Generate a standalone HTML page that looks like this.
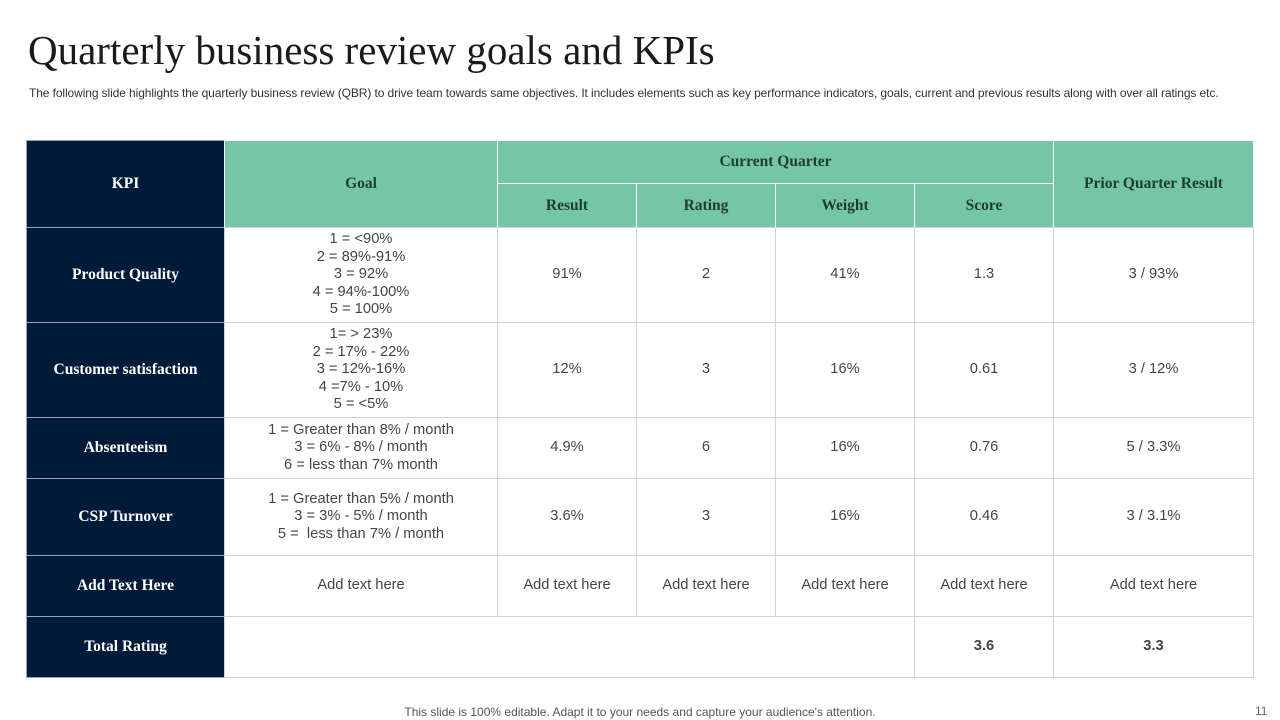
<!DOCTYPE html>
<html><head><meta charset="utf-8">
<style>
body{margin:0;width:1280px;height:720px;background:#fff;position:relative;overflow:hidden;font-family:"Liberation Sans",sans-serif;}
.t{position:absolute;left:28px;top:26px;font-family:"Liberation Serif",serif;font-size:41px;color:#1a1a1a;white-space:nowrap;}
.s{position:absolute;left:29px;top:86px;font-size:12px;color:#333;white-space:nowrap;letter-spacing:-0.1px;}
.c{position:absolute;box-sizing:border-box;display:flex;align-items:center;justify-content:center;text-align:center;font-size:14.7px;color:#454545;line-height:17.5px;border:1px solid #d3d3d3;background:#fff;}
.n{background:#001b3a;color:#fff;font-family:"Liberation Serif",serif;font-weight:bold;font-size:15.5px;border-color:#9aa4b0;}
.g{background:#74c6a5;color:#1e3d30;font-family:"Liberation Serif",serif;font-weight:bold;font-size:15.5px;border-color:#ffffff;}
.b{font-weight:bold;}
.f{position:absolute;top:705px;left:0;width:1280px;text-align:center;font-size:12px;color:#555;}
.p{position:absolute;top:704px;left:1255px;font-size:12px;color:#666;}
</style></head><body>
<div class="t">Quarterly business review goals and KPIs</div>
<div class="s">The following slide highlights the quarterly business review (QBR) to drive team towards same objectives. It includes elements such as key performance indicators, goals, current and previous results along with over all ratings etc.</div>

<div>
<div class="c n" style="left:26px;top:140px;width:199px;height:88px">KPI</div>
<div class="c g" style="left:224px;top:140px;width:274px;height:88px">Goal</div>
<div class="c g" style="left:497px;top:140px;width:557px;height:44px">Current Quarter</div>
<div class="c g" style="left:1053px;top:140px;width:201px;height:88px">Prior Quarter Result</div>
<div class="c g" style="left:497px;top:183px;width:140px;height:45px">Result</div>
<div class="c g" style="left:636px;top:183px;width:140px;height:45px">Rating</div>
<div class="c g" style="left:775px;top:183px;width:140px;height:45px">Weight</div>
<div class="c g" style="left:914px;top:183px;width:140px;height:45px">Score</div>

<div class="c n" style="left:26px;top:227px;width:199px;height:96px">Product Quality</div>
<div class="c" style="left:224px;top:227px;width:274px;height:96px">1 = &lt;90%<br>2 = 89%-91%<br>3 = 92%<br>4 = 94%-100%<br>5 = 100%</div>
<div class="c" style="left:497px;top:227px;width:140px;height:96px">91%</div>
<div class="c" style="left:636px;top:227px;width:140px;height:96px">2</div>
<div class="c" style="left:775px;top:227px;width:140px;height:96px">41%</div>
<div class="c" style="left:914px;top:227px;width:140px;height:96px">1.3</div>
<div class="c" style="left:1053px;top:227px;width:201px;height:96px">3 / 93%</div>

<div class="c n" style="left:26px;top:322px;width:199px;height:96px">Customer satisfaction</div>
<div class="c" style="left:224px;top:322px;width:274px;height:96px">1= &gt; 23%<br>2 = 17% - 22%<br>3 = 12%-16%<br>4 =7% - 10%<br>5 = &lt;5%</div>
<div class="c" style="left:497px;top:322px;width:140px;height:96px">12%</div>
<div class="c" style="left:636px;top:322px;width:140px;height:96px">3</div>
<div class="c" style="left:775px;top:322px;width:140px;height:96px">16%</div>
<div class="c" style="left:914px;top:322px;width:140px;height:96px">0.61</div>
<div class="c" style="left:1053px;top:322px;width:201px;height:96px">3 / 12%</div>

<div class="c n" style="left:26px;top:417px;width:199px;height:62px">Absenteeism</div>
<div class="c" style="left:224px;top:417px;width:274px;height:62px">1 = Greater than 8% / month<br>3 = 6% - 8% / month<br>6 = less than 7% month</div>
<div class="c" style="left:497px;top:417px;width:140px;height:62px">4.9%</div>
<div class="c" style="left:636px;top:417px;width:140px;height:62px">6</div>
<div class="c" style="left:775px;top:417px;width:140px;height:62px">16%</div>
<div class="c" style="left:914px;top:417px;width:140px;height:62px">0.76</div>
<div class="c" style="left:1053px;top:417px;width:201px;height:62px">5 / 3.3%</div>

<div class="c n" style="left:26px;top:478px;width:199px;height:78px">CSP Turnover</div>
<div class="c" style="left:224px;top:478px;width:274px;height:78px">1 = Greater than 5% / month<br>3 = 3% - 5% / month<br>5 = &nbsp;less than 7% / month</div>
<div class="c" style="left:497px;top:478px;width:140px;height:78px">3.6%</div>
<div class="c" style="left:636px;top:478px;width:140px;height:78px">3</div>
<div class="c" style="left:775px;top:478px;width:140px;height:78px">16%</div>
<div class="c" style="left:914px;top:478px;width:140px;height:78px">0.46</div>
<div class="c" style="left:1053px;top:478px;width:201px;height:78px">3 / 3.1%</div>

<div class="c n" style="left:26px;top:555px;width:199px;height:62px">Add Text Here</div>
<div class="c" style="left:224px;top:555px;width:274px;height:62px">Add text here</div>
<div class="c" style="left:497px;top:555px;width:140px;height:62px">Add text here</div>
<div class="c" style="left:636px;top:555px;width:140px;height:62px">Add text here</div>
<div class="c" style="left:775px;top:555px;width:140px;height:62px">Add text here</div>
<div class="c" style="left:914px;top:555px;width:140px;height:62px">Add text here</div>
<div class="c" style="left:1053px;top:555px;width:201px;height:62px">Add text here</div>

<div class="c n" style="left:26px;top:616px;width:199px;height:62px">Total Rating</div>
<div class="c" style="left:224px;top:616px;width:691px;height:62px"></div>
<div class="c b" style="left:914px;top:616px;width:140px;height:62px">3.6</div>
<div class="c b" style="left:1053px;top:616px;width:201px;height:62px">3.3</div>
</div>

<div class="f">This slide is 100% editable. Adapt it to your needs and capture your audience's attention.</div>
<div class="p">11</div>
</body></html>
